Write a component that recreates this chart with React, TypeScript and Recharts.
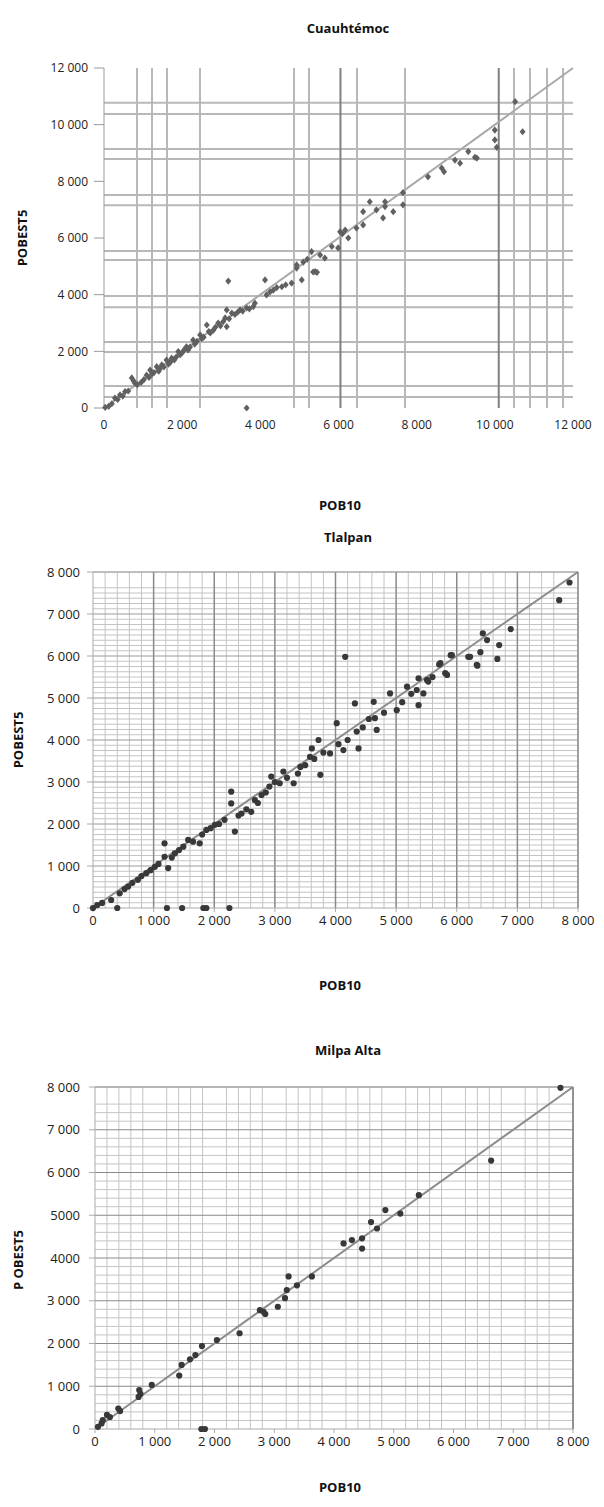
import { ScatterChart, Scatter, XAxis, YAxis, CartesianGrid, ReferenceLine } from "recharts";

// Cuauhtémoc
const cuauhPob10 = [30, 120, 200, 280, 350, 410, 480, 540, 620, 710, 760, 790, 850, 950, 1020, 1090, 1150, 1180, 1230, 1280, 1350, 1400, 1430, 1480, 1530, 1600, 1650, 1700, 1730, 1800, 1850, 1900, 1950, 2000, 2050, 2110, 2150, 2200, 2280, 2320, 2380, 2460, 2500, 2550, 2630, 2680, 2720, 2800, 2850, 2920, 2980, 3050, 3100, 3140, 3140, 3200, 3270, 3350, 3420, 3480, 3550, 3650, 3720, 3820, 3860, 3180, 3650, 4120, 4160, 4250, 4330, 4420, 4550, 4650, 4800, 4930, 4930, 5060, 5100, 5200, 5310, 5350, 5400, 5450, 5530, 5650, 5830, 5990, 6040, 6100, 6170, 6250, 6460, 6630, 6630, 6800, 6970, 7190, 7190, 7140, 7400, 7650, 7650, 8290, 8640, 8700, 8980, 9110, 9320, 9490, 9540, 10000, 10000, 10050, 10520, 10710];
const cuauhPobest5 = [20, 60, 150, 350, 300, 460, 420, 580, 600, 1060, 950, 880, 820, 900, 1000, 1160, 1080, 1340, 1200, 1250, 1460, 1300, 1380, 1520, 1450, 1690, 1550, 1620, 1760, 1700, 1800, 1990, 1880, 1950, 2050, 2160, 2050, 2150, 2400, 2250, 2350, 2580, 2450, 2500, 2930, 2700, 2650, 2750, 2850, 3000, 2900, 3050, 3180, 3460, 2870, 3150, 3350, 3300, 3380, 3460, 3420, 3530, 3500, 3580, 3700, 4480, 0, 4520, 3990, 4100, 4160, 4250, 4280, 4350, 4410, 4940, 5050, 4520, 5150, 5250, 5520, 4800, 4810, 4790, 5400, 5290, 5700, 5650, 6220, 6150, 6280, 6000, 6350, 6460, 6930, 7280, 6990, 7280, 7110, 6710, 6930, 7170, 7600, 8160, 8470, 8340, 8750, 8640, 9050, 8850, 8820, 9810, 9460, 9200, 10810, 9750];

// Tlalpan
const tlalpanPob10 = [0, 70, 150, 300, 400, 440, 520, 580, 650, 740, 800, 880, 950, 1020, 1080, 1180, 1180, 1240, 1220, 1300, 1350, 1420, 1470, 1490, 1570, 1650, 1760, 1820, 1870, 1800, 1870, 1940, 2010, 2080, 2170, 2250, 2280, 2280, 2340, 2400, 2450, 2530, 2610, 2670, 2720, 2780, 2850, 2910, 2940, 3000, 3080, 3140, 3200, 3310, 3380, 3420, 3500, 3580, 3610, 3650, 3720, 3750, 3800, 3910, 4020, 4050, 4130, 4160, 4200, 4320, 4350, 4380, 4450, 4550, 4630, 4650, 4680, 4800, 4900, 5010, 5100, 5180, 5250, 5340, 5370, 5370, 5450, 5510, 5530, 5600, 5710, 5730, 5810, 5840, 5900, 5920, 6190, 6220, 6330, 6340, 6390, 6430, 6500, 6670, 6700, 6890, 7690, 7860];
const tlalpanPobest5 = [0, 70, 120, 190, 0, 350, 450, 510, 600, 670, 760, 830, 900, 980, 1050, 1220, 1540, 950, 0, 1200, 1300, 1380, 0, 1460, 1620, 1580, 1540, 0, 0, 1750, 1860, 1900, 1980, 2000, 2100, 0, 2770, 2490, 1820, 2200, 2250, 2350, 2290, 2570, 2500, 2690, 2750, 2890, 3130, 3000, 2970, 3250, 3100, 2970, 3200, 3360, 3400, 3600, 3800, 3550, 4000, 3170, 3700, 3680, 4400, 3900, 3760, 5980, 4000, 4870, 4200, 3800, 4300, 4500, 4910, 4520, 4240, 4650, 5110, 4710, 4900, 5270, 5100, 5190, 5470, 4830, 5110, 5430, 5390, 5500, 5800, 5830, 5590, 5550, 6020, 6020, 5980, 5980, 5790, 5770, 6090, 6540, 6380, 5930, 6260, 6640, 7330, 7750];

// Milpa Alta
const milpaPob10 = [50, 110, 130, 200, 250, 390, 420, 730, 740, 760, 950, 1410, 1450, 1590, 1680, 1790, 1780, 1840, 2040, 2420, 2760, 2820, 2850, 3060, 3180, 3210, 3240, 3380, 3630, 4160, 4300, 4470, 4470, 4620, 4720, 4860, 5110, 5420, 6630, 7790];
const milpaPobest5 = [50, 130, 210, 330, 280, 480, 420, 750, 910, 820, 1030, 1250, 1500, 1630, 1730, 1940, 0, 0, 2080, 2240, 2780, 2740, 2690, 2860, 3060, 3250, 3570, 3360, 3570, 4340, 4420, 4460, 4220, 4840, 4690, 5120, 5040, 5470, 6280, 7980];

const cuauhTicks = [0, 2000, 4000, 6000, 8000, 10000, 12000];
const cuauhTickLabels = ["0", "2 000", "4 000", "6 000", "8 000", "10 000", "12 000"];
const ticks8k = [0, 1000, 2000, 3000, 4000, 5000, 6000, 7000, 8000];
const ticks8kLabels = ["0", "1 000", "2 000", "3 000", "4 000", "5 000", "6 000", "7 000", "8 000"];
const milpaYLabels = ["0", "1 000", "2 000", "3 000", "4000", "5000", "6 000", "7 000", "8 000"];

// scanned irregular grid of the first panel
const cuauhGridX = [844, 1228, 1612, 2456, 4862, 5245, 6474, 7702, 10491, 10900, 11335, 11745];
const cuauhGridXDark = [6050, 10100];
const cuauhGridY = [390, 780, 1980, 2330, 3560, 3950, 5220, 5540, 7160, 7520, 8790, 9140, 10380, 10770];

const steps = (max: number, step: number) => {
  const out: number[] = [];
  for (let v = step; v <= max; v += step) out.push(v);
  return out;
};

const toPoints = (xs: number[], ys: number[]) => xs.map((x, i) => ({ x, y: ys[i] }));

const Diamond = (p: any) => (
  <polygon points={`${p.cx},${p.cy - 3.6} ${p.cx + 3},${p.cy} ${p.cx},${p.cy + 3.6} ${p.cx - 3},${p.cy}`} fill="#606060" />
);
const Dot = (p: any) => <circle cx={p.cx} cy={p.cy} r={3.1} fill="#383838" />;

const FONT = "'Open Sans', sans-serif";
const tickSmall = { fontSize: 12, fill: "#222", fontFamily: FONT };
const tickBig = { fontSize: 13, fill: "#222", fontFamily: FONT };
const titleStyle: React.CSSProperties = {
  position: "absolute",
  fontFamily: FONT,
  fontWeight: 700,
  fontSize: 13,
  color: "#111",
  transform: "translate(-50%, -50%)",
  whiteSpace: "nowrap",
};

function Titles({ title, ty, yLabel, yx, yy, xy }: any) {
  return (
    <>
      <div style={{ ...titleStyle, left: 340, top: ty }}>{title}</div>
      <div style={{ ...titleStyle, left: yx, top: yy, transform: "translate(-50%, -50%) rotate(-90deg)" }}>{yLabel}</div>
      <div style={{ ...titleStyle, left: 332, top: xy }}>POB10</div>
    </>
  );
}

function Cuauhtemoc() {
  const data = toPoints(cuauhPob10, cuauhPobest5);
  return (
    <div style={{ position: "relative", width: 596, height: 512 }}>
      <ScatterChart width={596} height={512} margin={{ top: 60, right: 31, bottom: 82, left: 0 }}>
        <CartesianGrid stroke="#b8b8b8" strokeWidth={2} verticalValues={cuauhGridX} horizontalValues={cuauhGridY} />
        {cuauhGridXDark.map((v) => (
          <ReferenceLine key={v} x={v} stroke="#808080" strokeWidth={2} />
        ))}
        <XAxis type="number" dataKey="x" domain={[0, 12000]} ticks={cuauhTicks} axisLine={false} tickLine={false} tickMargin={6}
          tick={tickSmall} tickFormatter={(v) => cuauhTickLabels[cuauhTicks.indexOf(v)]} height={30} />
        <YAxis type="number" dataKey="y" domain={[0, 12000]} ticks={cuauhTicks} width={96} stroke="#9a9a9a" tickSize={10} tickMargin={6}
          tick={tickSmall} tickFormatter={(v) => cuauhTickLabels[cuauhTicks.indexOf(v)]} />
        <ReferenceLine segment={[{ x: 0, y: 0 }, { x: 12000, y: 12000 }]} stroke="#a8a8a8" strokeWidth={2} />
        <Scatter data={data} fill="#606060" shape={Diamond} isAnimationActive={false} />
      </ScatterChart>
      <Titles title="Cuauhtémoc" ty={20} yLabel="POBEST5" yx={14} yy={230} xy={497} />
    </div>
  );
}

function Tlalpan() {
  const data = toPoints(tlalpanPob10, tlalpanPobest5);
  return (
    <div style={{ position: "relative", width: 596, height: 490 }}>
      <ScatterChart width={596} height={490} margin={{ top: 52, right: 26, bottom: 72, left: 0 }}>
        <CartesianGrid stroke="#c4c4c4" strokeWidth={1} verticalValues={steps(8000, 200)} horizontalValues={steps(8000, 125)} />
        {ticks8k.slice(1).map((v) => (
          <ReferenceLine key={"x" + v} x={v} stroke="#8a8a8a" strokeWidth={1.5} />
        ))}
        {ticks8k.slice(1).map((v) => (
          <ReferenceLine key={"y" + v} y={v} stroke="#9a9a9a" strokeWidth={1} />
        ))}
        <XAxis type="number" dataKey="x" domain={[0, 8000]} ticks={ticks8k} stroke="#aaa" tickSize={4} tickMargin={4}
          tick={tickBig} tickFormatter={(v) => ticks8kLabels[ticks8k.indexOf(v)]} height={30} />
        <YAxis type="number" dataKey="y" domain={[0, 8000]} ticks={ticks8k} width={85} stroke="#aaa" tickSize={6} tickMargin={7}
          tick={tickBig} tickFormatter={(v) => ticks8kLabels[ticks8k.indexOf(v)]} />
        <ReferenceLine segment={[{ x: 0, y: 0 }, { x: 8000, y: 8000 }]} stroke="#8c8c8c" strokeWidth={2} />
        <Scatter data={data} fill="#383838" shape={Dot} isAnimationActive={false} />
      </ScatterChart>
      <Titles title="Tlalpan" ty={17} yLabel="POBEST5" yx={10} yy={220} xy={465} />
    </div>
  );
}

function MilpaAlta() {
  const data = toPoints(milpaPob10, milpaPobest5);
  return (
    <div style={{ position: "relative", width: 596, height: 489 }}>
      <ScatterChart width={596} height={489} margin={{ top: 77, right: 31, bottom: 40, left: 0 }}>
        <CartesianGrid stroke="#c4c4c4" strokeWidth={1} verticalValues={steps(8000, 200)} horizontalValues={steps(8000, 200)} />
        {ticks8k.slice(1).map((v) => (
          <ReferenceLine key={"y" + v} y={v} stroke="#8a8a8a" strokeWidth={1.2} />
        ))}
        <ReferenceLine x={8000} stroke="#777" strokeWidth={1.5} />
        <XAxis type="number" dataKey="x" domain={[0, 8000]} ticks={ticks8k} stroke="#aaa" tickSize={4} tickMargin={4}
          tick={tickBig} tickFormatter={(v) => ticks8kLabels[ticks8k.indexOf(v)]} height={30} />
        <YAxis type="number" dataKey="y" domain={[0, 8000]} ticks={ticks8k} width={87} stroke="#aaa" tickSize={6} tickMargin={9}
          tick={tickBig} tickFormatter={(v) => milpaYLabels[ticks8k.indexOf(v)]} />
        <ReferenceLine segment={[{ x: 0, y: 0 }, { x: 8000, y: 8000 }]} stroke="#8c8c8c" strokeWidth={2} />
        <Scatter data={data} fill="#383838" shape={Dot} isAnimationActive={false} />
      </ScatterChart>
      <Titles title="Milpa Alta" ty={40} yLabel="P OBEST5" yx={10} yy={250} xy={477} />
    </div>
  );
}

export default function App() {
  return (
    <div style={{ width: 596, background: "#fff" }}>
      <Cuauhtemoc />
      <Tlalpan />
      <MilpaAlta />
    </div>
  );
}
